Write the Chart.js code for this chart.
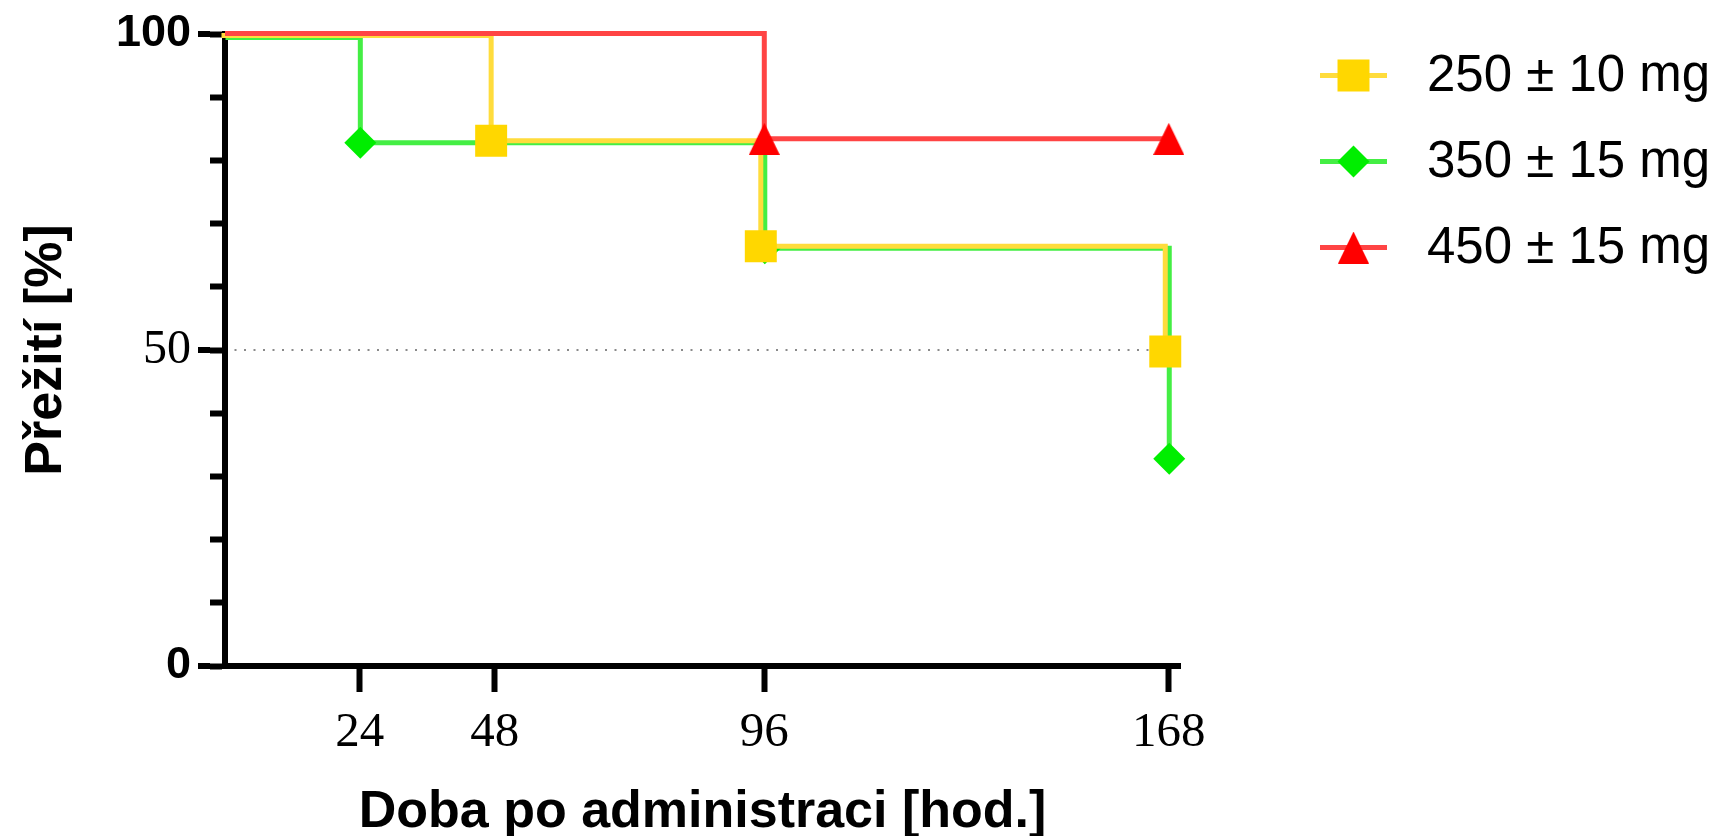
<!DOCTYPE html>
<html>
<head>
<meta charset="utf-8">
<title>Přežití</title>
<script src="https://cdn.jsdelivr.net/npm/chart.js@4.4.1/dist/chart.umd.min.js"></script>
<style>
  html, body { margin: 0; padding: 0; background: #fff; }
  #wrap { width: 1724px; height: 836px; position: relative; }
</style>
</head>
<body>
<div id="wrap"><canvas id="survivalChart"></canvas></div>
<script>
// Kaplan-Meier survival of three dose groups, hours after administration
const timeTicks = [24, 48, 96, 168];
const survivalTicks = [0, 50, 100];
const groupLabels = ['250 ± 10 mg', '350 ± 15 mg', '450 ± 15 mg'];

const time250 = [0, 48, 96, 168];
const surv250 = [100, 83.33, 66.67, 50];

const time350 = [0, 24, 96, 168];
const surv350 = [100, 83.33, 66.67, 33.33];

const time450 = [0, 96, 168];
const surv450 = [100, 83.33, 83.33];

const SANS = 'Liberation Sans';
const SERIF = 'Liberation Serif';

// taller-than-equilateral triangle marker, centred on the point
function makeTriangle(w, h, color) {
    const c = document.createElement('canvas');
    c.width = w;
    c.height = h;
    const g = c.getContext('2d');
    g.fillStyle = color;
    g.beginPath();
    g.moveTo(w / 2, 0);
    g.lineTo(w, h);
    g.lineTo(0, h);
    g.closePath();
    g.fill();
    return c;
}

function series(label, xs, ys, lineColor, markColor, style, radius, order, nudge) {
    return {
        label: label,
        data: xs.map((x, i) => ({ x: x, y: ys[i] })),
        stepped: 'before',
        borderColor: lineColor,
        borderWidth: 5,
        borderJoinStyle: 'miter',
        borderCapStyle: 'butt',
        pointStyle: style,
        markerRadius: radius,
        pointRadius: c => c.dataIndex === 0 ? 0 : radius,
        pointHoverRadius: c => c.dataIndex === 0 ? 0 : radius,
        pointBackgroundColor: markColor,
        pointBorderWidth: 0,
        fill: false,
        clip: false,
        order: order,
        nudge: nudge
    };
}

// shift overlapping curves a few pixels apart so coincident steps stay visible
const curveNudge = {
    id: 'curveNudge',
    beforeDatasetDraw(chart, args) {
        const n = chart.data.datasets[args.index].nudge || [0, 0];
        chart.ctx.save();
        chart.ctx.translate(n[0], n[1]);
    },
    afterDatasetDraw(chart) {
        chart.ctx.restore();
    }
};

// legend on the right: line segment + marker + label, one row per group
const sideLegend = {
    id: 'sideLegend',
    afterDraw(chart, args, opts) {
        const ctx = chart.ctx;
        chart.data.datasets.forEach((ds, i) => {
            const y = opts.top + i * opts.rowGap;
            const mid = (opts.lineStart + opts.lineEnd) / 2;
            ctx.save();
            ctx.strokeStyle = ds.borderColor;
            ctx.lineWidth = ds.borderWidth;
            ctx.beginPath();
            ctx.moveTo(opts.lineStart, y);
            ctx.lineTo(opts.lineEnd, y);
            ctx.stroke();
            ctx.fillStyle = ds.pointBackgroundColor;
            Chart.helpers.drawPoint(ctx, {
                pointStyle: ds.pointStyle,
                radius: ds.markerRadius,
                rotation: 0,
                borderWidth: 0
            }, mid, y);
            ctx.fillStyle = '#000';
            ctx.font = opts.font;
            ctx.textAlign = 'left';
            ctx.textBaseline = 'middle';
            ctx.fillText(ds.label, opts.textX, y + 1);
            ctx.restore();
        });
    }
};

const datasets = [
    series(groupLabels[0], time250, surv250, 'rgb(255,220,60)', 'rgb(255,215,0)', 'rect', 22.6, 1, [-3.5, 1.5]),
    series(groupLabels[1], time350, surv350, 'rgb(68,238,68)', 'rgb(0,238,0)', 'rectRot', 16, 2, [0.5, 3.5]),
    series(groupLabels[2], time450, surv450, 'rgb(255,68,68)', 'rgb(255,0,0)', makeTriangle(31, 32, 'rgb(255,0,0)'), 16, 0, [0, -0.5])
];

new Chart(document.getElementById('survivalChart'), {
    type: 'line',
    data: { datasets: datasets },
    plugins: [curveNudge, sideLegend],
    options: {
        responsive: true,
        maintainAspectRatio: false,
        animation: false,
        devicePixelRatio: 1,
        layout: { padding: { left: 0, top: 33, right: 544, bottom: 0 } },
        plugins: {
            legend: { display: false },
            tooltip: { enabled: false },
            sideLegend: {
                top: 75.5,
                rowGap: 86,
                lineStart: 1320,
                lineEnd: 1387,
                textX: 1427,
                font: '51px "' + SANS + '"'
            }
        },
        scales: {
            x: {
                type: 'linear',
                min: 0,
                max: 170,
                afterBuildTicks: s => { s.ticks = timeTicks.map(v => ({ value: v })); },
                afterFit: s => { s.height = 170; },
                border: { display: true, color: '#000', width: 6 },
                grid: {
                    drawOnChartArea: false,
                    drawTicks: true,
                    tickLength: 26,
                    tickWidth: 6,
                    tickColor: '#000',
                    tickBorderDash: []
                },
                ticks: {
                    color: '#000',
                    padding: 12,
                    maxRotation: 0,
                    font: { family: SERIF, size: 49, lineHeight: 1.2 },
                    callback: v => String(v)
                },
                title: {
                    display: true,
                    text: 'Doba po administraci [hod.]',
                    color: '#000',
                    font: { family: SANS, size: 52, weight: 'bold', lineHeight: 0.9 },
                    padding: { top: 0, bottom: 0 }
                }
            },
            // minor ticks every 10 % next to the axis line
            y: {
                type: 'linear',
                position: 'left',
                weight: 0,
                min: 0,
                max: 100,
                afterFit: s => { s.width = 15; },
                border: { display: true, color: '#000', width: 6 },
                grid: {
                    drawOnChartArea: false,
                    drawTicks: true,
                    tickLength: 15,
                    tickWidth: 6,
                    tickColor: '#000',
                    tickBorderDash: []
                },
                ticks: { display: false, stepSize: 10 }
            },
            // labelled major ticks, their outer part, and the dotted 50 % line
            yMajor: {
                type: 'linear',
                axis: 'y',
                position: 'left',
                weight: 1,
                min: 0,
                max: 100,
                afterBuildTicks: s => { s.ticks = survivalTicks.map(v => ({ value: v })); },
                afterFit: s => { s.width = 210; },
                border: { display: false, dash: [2, 7.5] },
                grid: {
                    drawOnChartArea: true,
                    drawTicks: true,
                    tickLength: 12,
                    tickWidth: 6,
                    tickColor: '#000',
                    tickBorderDash: [],
                    lineWidth: 2,
                    color: c => c.tick && c.tick.value === 50 ? '#8a8a8a' : 'rgba(0,0,0,0)'
                },
                ticks: {
                    color: '#000',
                    padding: 7,
                    callback: v => String(v),
                    font: c => (c.tick && c.tick.value === 50)
                        ? { family: SERIF, size: 48, weight: 'normal' }
                        : { family: SANS, size: 45, weight: 'bold' }
                },
                title: {
                    display: true,
                    text: 'Přežití [%]',
                    color: '#000',
                    font: { family: SANS, size: 52, weight: 'bold', lineHeight: 1 },
                    padding: { top: 21, bottom: 0 }
                }
            }
        }
    }
});
</script>
</body>
</html>
